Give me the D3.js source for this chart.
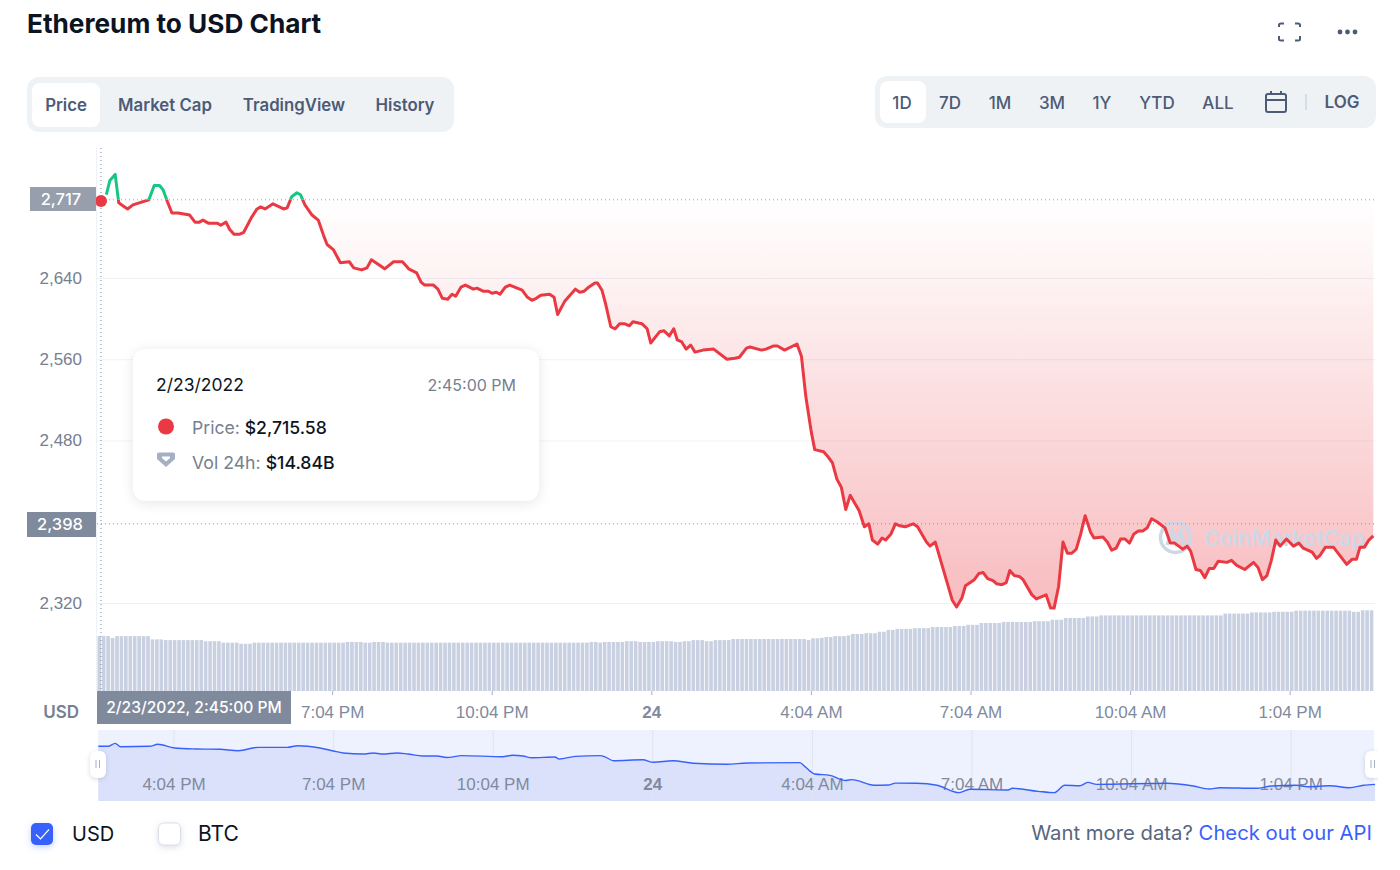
<!DOCTYPE html>
<html>
<head>
<meta charset="utf-8">
<script src="https://cdn.jsdelivr.net/npm/d3@7"></script>
<style>
    html, body { margin: 0; padding: 0; background: #fff; }
    svg { display: block; font-family: Inter, "Noto Sans", sans-serif; }
    .main-axis .domain, .mini-axis .domain, .price-axis .domain { display: none; }
    .price-axis line { stroke: #eff2f5; }
    .price-axis text { fill: #76808f; font-size: 17px; }
    .main-axis line { stroke: #a6b0c3; }
    .main-axis text { fill: #808a9d; font-size: 17px; }
    .mini-axis line { stroke: #dfe4f2; }
    .mini-axis text { fill: #808a9d; font-size: 17px; }
</style>
</head>
<body>
<div id="chart"></div>
<script>
// minutes after 2/23/2022 2:45 PM
var priceMinutes = [6,10,16,20,25,30,36,54,60,66,70,75,80,87,100,106,111,115,121,131,135,141,145,150,156,161,170,176,180,185,194,206,210,215,221,225,230,238,245,251,255,262,270,280,285,294,300,305,320,330,340,347,356,361,365,375,380,385,391,396,400,406,411,420,424,431,437,441,446,450,456,461,475,481,486,491,496,506,511,515,523,535,540,545,550,557,560,565,569,575,580,585,590,596,600,605,610,616,620,630,635,641,646,650,655,660,665,670,679,691,706,715,720,728,732,745,750,758,763,771,785,790,795,801,805,815,820,825,830,835,840,845,855,861,866,870,876,881,885,891,896,901,907,916,921,931,935,941,960,965,971,975,985,990,995,1000,1006,1010,1016,1021,1025,1030,1036,1040,1050,1055,1066,1071,1075,1080,1085,1090,1095,1100,1105,1110,1116,1120,1130,1135,1140,1145,1150,1155,1160,1165,1170,1175,1180,1185,1191,1200,1206,1211,1220,1225,1229,1235,1240,1245,1250,1255,1260,1270,1275,1281,1290,1300,1305,1310,1315,1320,1325,1330,1337,1345,1351,1356,1366,1371,1375,1381,1390,1405,1411,1416,1420,1425,1430,1435];
var priceValues = [2722,2736,2742,2714,2711,2708,2712,2717,2731,2731,2727,2715,2704,2704,2702,2695,2695,2697,2694,2694,2692,2695,2688,2683,2683,2685,2700,2708,2710,2708,2713,2708,2709,2720,2724,2722,2712,2702,2697,2682,2673,2668,2655,2656,2650,2648,2650,2658,2649,2656,2656,2649,2645,2636,2633,2633,2629,2620,2619,2624,2622,2631,2633,2629,2630,2627,2627,2625,2626,2624,2631,2633,2628,2621,2618,2620,2623,2624,2621,2604,2617,2629,2626,2627,2631,2635,2635,2628,2615,2592,2590,2595,2595,2593,2597,2596,2595,2590,2576,2587,2588,2583,2590,2579,2577,2570,2574,2567,2569,2570,2560,2561,2562,2571,2572,2569,2570,2573,2573,2569,2575,2563,2523,2489,2471,2469,2464,2458,2442,2434,2412,2426,2411,2395,2398,2382,2378,2384,2382,2388,2398,2396,2395,2398,2395,2380,2376,2380,2323,2316,2325,2337,2343,2349,2350,2344,2342,2339,2338,2340,2352,2347,2346,2343,2328,2324,2328,2315,2315,2336,2380,2369,2369,2373,2388,2406,2390,2384,2385,2380,2372,2374,2383,2383,2379,2388,2391,2391,2394,2403,2400,2394,2379,2379,2373,2376,2371,2353,2352,2345,2354,2354,2361,2360,2362,2357,2353,2360,2355,2343,2347,2362,2382,2376,2383,2376,2379,2374,2370,2364,2367,2375,2375,2358,2363,2363,2375,2375,2382,2386];

// overview strip is drawn coarser than the main line, so it has its own reading
var miniMinutes = [-3,8,16,22,55,64,83,108,134,155,177,210,222,247,262,273,296,307,318,334,346,363,379,390,407,453,464,476,486,512,517,535,563,569,578,611,623,645,668,706,729,788,794,805,822,840,847,872,888,896,920,943,968,980,1023,1028,1057,1075,1087,1104,1113,1123,1202,1232,1250,1262,1303,1321,1348,1361,1386,1408,1424,1437];
var miniValues = [2714,2714,2739,2710,2714,2731,2699,2691,2688,2676,2705,2705,2719,2699,2674,2657,2648,2657,2648,2657,2648,2631,2631,2618,2634,2625,2637,2631,2616,2622,2605,2628,2634,2622,2591,2599,2577,2591,2569,2560,2571,2574,2540,2477,2466,2422,2429,2381,2383,2399,2398,2381,2318,2347,2341,2355,2329,2318,2381,2377,2406,2389,2398,2375,2349,2360,2355,2375,2381,2369,2377,2360,2381,2389];

// volume in $B, runs of equal looking bars
var volumeLevels = [15.1,14.6,15.1,14.2,14.0,13.7,13.3,13.0,13.3,13.5,13.3,13.5,13.3,13.5,13.3,13.5,13.7,13.5,13.7,13.5,13.7,14.0,13.7,14.0,14.3,14.0,14.5,14.6,14.84,15.1,15.3,15.7,15.9,16.3,16.8,17.1,17.3,17.6,17.9,18.2,18.7,19.0,19.2,19.6,20.1,20.5,20.8,21.3,21.6,21.8,22.1,21.8,22.2];
var volumeCounts = [3,1,8,3,9,4,4,3,21,4,2,3,46,2,1,5,3,4,4,2,2,3,2,4,17,1,2,1,2,3,1,3,3,2,2,4,4,5,3,3,5,7,4,3,5,3,28,6,5,5,13,2,3];

var priceTicks = [2640, 2560, 2480, 2320];
var baselinePrice = 2717;
var lastPrice = 2398;
var timeTicks = [79, 259, 439, 619, 799, 979, 1159, 1339];
var timeLabels = ['4:04 PM', '7:04 PM', '10:04 PM', '24', '4:04 AM', '7:04 AM', '10:04 AM', '1:04 PM'];
var tabs = ['Price', 'Market Cap', 'TradingView', 'History'];
var tabCenters = [66, 165, 294, 405];
var ranges = ['1D', '7D', '1M', '3M', '1Y', 'YTD', 'ALL'];
var rangeCenters = [902, 950, 1000, 1052, 1102, 1157, 1218];

var red = '#ea3943', green = '#16c784', blue = '#3861fb';
var slate = '#4d5b76', grey = '#76808f';

var priceData = priceMinutes.map(function (m, i) { return { minute: m, price: priceValues[i] }; });
var miniData = miniMinutes.map(function (m, i) { return { minute: m, price: miniValues[i] }; });
var volumeData = [];
volumeLevels.forEach(function (v, i) {
    for (var k = 0; k < volumeCounts[i]; k++) volumeData.push(v);
});

var svg = d3.select('#chart').append('svg').attr('width', 1400).attr('height', 870);
var defs = svg.append('defs');

var x = d3.scaleLinear().domain([0, 1435]).range([101, 1373.3]);
var y = d3.scaleLinear().domain([2320, 2640]).range([603, 278]);
var yVolume = d3.scaleLinear().domain([0, 22.2]).range([691, 610.3]);
var yMini = d3.scaleLinear().domain([2315, 2742]).range([793, 743]);

var grad = defs.append('linearGradient').attr('id', 'redFade')
    .attr('gradientUnits', 'userSpaceOnUse')
    .attr('x1', 0).attr('x2', 0).attr('y1', y(baselinePrice)).attr('y2', y(2315));
grad.append('stop').attr('offset', 0).attr('stop-color', red).attr('stop-opacity', 0);
grad.append('stop').attr('offset', 1).attr('stop-color', red).attr('stop-opacity', 0.34);

defs.append('clipPath').attr('id', 'above').append('rect')
    .attr('x', 0).attr('y', 0).attr('width', 1400).attr('height', y(baselinePrice));
defs.append('clipPath').attr('id', 'below').append('rect')
    .attr('x', 0).attr('y', y(baselinePrice)).attr('width', 1400).attr('height', 600);
defs.append('clipPath').attr('id', 'miniClip').append('rect')
    .attr('x', 0).attr('y', 0).attr('width', 1378).attr('height', 870);

// header
svg.append('text').attr('x', 27).attr('y', 33).text('Ethereum to USD Chart')
    .style('font-size', '26.2px').style('font-weight', 700).style('fill', '#0d1421');

svg.append('rect').attr('x', 27).attr('y', 77).attr('width', 427).attr('height', 55).attr('rx', 12).attr('fill', '#eff2f5');
svg.append('rect').attr('x', 32).attr('y', 83).attr('width', 68).attr('height', 44).attr('rx', 8).attr('fill', '#fff');
svg.selectAll('.tab').data(tabs).enter().append('text')
    .attr('class', 'tab')
    .attr('x', function (d, i) { return tabCenters[i]; })
    .attr('y', 110.5)
    .attr('text-anchor', 'middle')
    .text(function (d) { return d; })
    .style('font-size', '16.8px').style('font-weight', 600).style('fill', slate);

svg.append('rect').attr('x', 875).attr('y', 76).attr('width', 501).attr('height', 52).attr('rx', 12).attr('fill', '#eff2f5');
svg.append('rect').attr('x', 880).attr('y', 81).attr('width', 46).attr('height', 42).attr('rx', 8).attr('fill', '#fff');
svg.selectAll('.range').data(ranges).enter().append('text')
    .attr('class', 'range')
    .attr('x', function (d, i) { return rangeCenters[i]; })
    .attr('y', 109)
    .attr('text-anchor', 'middle')
    .text(function (d) { return d; })
    .style('font-size', '17px').style('font-weight', 500).style('fill', slate);
svg.append('text').attr('x', 1342).attr('y', 108).attr('text-anchor', 'middle').text('LOG')
    .style('font-size', '17px').style('font-weight', 600).style('fill', slate);
svg.append('line').attr('x1', 1306).attr('x2', 1306).attr('y1', 94).attr('y2', 110).attr('stroke', '#cfd6e4').attr('stroke-width', 1.5);

// calendar icon
var cal = svg.append('g').attr('fill', 'none').attr('stroke', slate).attr('stroke-width', 2);
cal.append('rect').attr('x', 1266).attr('y', 94).attr('width', 20).attr('height', 18).attr('rx', 2);
cal.append('path').attr('d', 'M1266 100H1286M1271 91V95M1281 91V95');

// fullscreen corners and dots
svg.append('path')
    .attr('d', 'M1279 27V25Q1279 23.5 1281 23.5H1284M1295 23.5H1298Q1300 23.5 1300 25V27M1279 36V39Q1279 40.5 1281 40.5H1284M1295 40.5H1298Q1300 40.5 1300 39V36')
    .attr('fill', 'none').attr('stroke', slate).attr('stroke-width', 2);
svg.selectAll('.dot3').data([1340, 1347.5, 1355]).enter().append('circle')
    .attr('class', 'dot3').attr('cx', function (d) { return d; }).attr('cy', 32).attr('r', 2.4).attr('fill', slate);

// price axis and grid
svg.append('g').attr('class', 'price-axis')
    .attr('transform', 'translate(97,0)')
    .call(d3.axisLeft(y).tickValues(priceTicks).tickSize(-1278).tickPadding(15).tickFormat(d3.format(',')));
svg.append('line').attr('x1', 96.5).attr('x2', 96.5).attr('y1', 148).attr('y2', 691).attr('stroke', '#eff2f5');

// volume bars
svg.selectAll('.vol').data(volumeData).enter().append('rect')
    .attr('class', 'vol')
    .attr('x', function (d, i) { return x(-4 + 5 * i); })
    .attr('width', 3.6)
    .attr('y', function (d) { return yVolume(d); })
    .attr('height', function (d) { return yVolume(0) - yVolume(d); })
    .attr('fill', '#c8d0e1');

// area under baseline
var area = d3.area()
    .x(function (d) { return x(d.minute); })
    .y0(y(baselinePrice))
    .y1(function (d) { return y(d.price); });
svg.append('path').datum(priceData).attr('d', area)
    .attr('fill', 'url(#redFade)').attr('clip-path', 'url(#below)');

// watermark
var mark = svg.append('g').attr('fill', 'none').attr('stroke', '#cdd8e6').attr('stroke-width', 3.5);
mark.append('circle').attr('cx', 1175.5).attr('cy', 537.5).attr('r', 15);
mark.append('path').attr('d', 'M1167 545L1172 531L1176 543L1181 531L1184 545');
svg.append('text').attr('x', 1204).attr('y', 546).text('CoinMarketCap')
    .style('font-size', '21.3px').style('font-weight', 600).style('fill', '#cdd8e6');

// reference lines
svg.append('line').attr('x1', 101).attr('x2', 1375).attr('y1', y(baselinePrice)).attr('y2', y(baselinePrice))
    .attr('stroke', '#9aa3b3').attr('stroke-dasharray', '1,3');
svg.append('line').attr('x1', 97).attr('x2', 1375).attr('y1', y(lastPrice)).attr('y2', y(lastPrice))
    .attr('stroke', '#8a93a5').attr('stroke-dasharray', '1,3');
svg.append('line').attr('x1', 101).attr('x2', 101).attr('y1', 148).attr('y2', 691)
    .attr('stroke', '#7f8aa0').attr('stroke-dasharray', '1,3');

// price line, green above the baseline and red under it
var line = d3.line()
    .x(function (d) { return x(d.minute); })
    .y(function (d) { return y(d.price); });
svg.append('path').datum(priceData).attr('d', line)
    .attr('fill', 'none').attr('stroke', red).attr('stroke-width', 3).attr('stroke-linejoin', 'round')
    .attr('clip-path', 'url(#below)');
svg.append('path').datum(priceData).attr('d', line)
    .attr('fill', 'none').attr('stroke', green).attr('stroke-width', 3).attr('stroke-linejoin', 'round')
    .attr('clip-path', 'url(#above)');
svg.append('circle').attr('cx', 101).attr('cy', 201).attr('r', 6).attr('fill', red);

// value badges
svg.append('rect').attr('x', 30).attr('y', 187).attr('width', 66).attr('height', 24).attr('fill', '#979eac');
svg.append('text').attr('x', 61).attr('y', 205).attr('text-anchor', 'middle').text(d3.format(',')(baselinePrice))
    .style('font-size', '16.5px').style('font-weight', 500).style('fill', '#fff');
svg.append('rect').attr('x', 27).attr('y', 512).attr('width', 69).attr('height', 25).attr('fill', '#808a9d');
svg.append('text').attr('x', 60).attr('y', 530).attr('text-anchor', 'middle').text(d3.format(',')(lastPrice))
    .style('font-size', '16.5px').style('font-weight', 500).style('fill', '#fff');

// time axis, first label sits under the date badge in the picture so it starts at 7:04 PM
var mainAxis = svg.append('g').attr('class', 'main-axis')
    .attr('transform', 'translate(1.5,691)')
    .call(d3.axisBottom(x).tickValues(timeTicks.slice(1)).tickSize(4).tickPadding(11)
        .tickFormat(function (d, i) { return timeLabels[i + 1]; }));
mainAxis.selectAll('text').filter(function (d, i) { return timeLabels[i + 1] === '24'; }).style('font-weight', 700);

svg.append('text').attr('x', 79).attr('y', 718).attr('text-anchor', 'end').text('USD')
    .style('font-size', '17px').style('font-weight', 600).style('fill', grey);
svg.append('rect').attr('x', 97).attr('y', 691).attr('width', 194).attr('height', 33).attr('fill', '#808a9d');
svg.append('text').attr('x', 194).attr('y', 713).attr('text-anchor', 'middle').text('2/23/2022, 2:45:00 PM')
    .style('font-size', '15.6px').style('font-weight', 500).style('fill', '#fff');

// tooltip
svg.append('rect').attr('x', 133).attr('y', 349).attr('width', 406).attr('height', 152).attr('rx', 12)
    .attr('fill', '#fff').style('filter', 'drop-shadow(0 2px 6px rgba(88,102,126,.16))');
svg.append('text').attr('x', 156).attr('y', 391).text('2/23/2022').style('font-size', '17.5px').style('fill', '#0d1421');
svg.append('text').attr('x', 516).attr('y', 391).attr('text-anchor', 'end').text('2:45:00 PM').style('font-size', '16px').style('fill', grey);
svg.append('circle').attr('cx', 166).attr('cy', 426.5).attr('r', 8).attr('fill', red);
svg.append('path').attr('d', 'M157 454Q157 452.5 159 452.5H173Q175 452.5 175 454V459L166 467L157 459Z M162 456.5H170V458L166 461.5L162 458Z')
    .attr('fill', '#a6b0c3').attr('fill-rule', 'evenodd');
var priceRow = svg.append('text').attr('x', 192).attr('y', 434).style('font-size', '17.6px');
priceRow.append('tspan').text('Price: ').style('fill', grey);
priceRow.append('tspan').text('$2,715.58').style('fill', '#0d1421').style('font-weight', 500);
var volRow = svg.append('text').attr('x', 192).attr('y', 469).style('font-size', '17.7px');
volRow.append('tspan').text('Vol 24h: ').style('fill', grey);
volRow.append('tspan').text('$14.84B').style('fill', '#0d1421').style('font-weight', 500);

// overview strip
svg.append('rect').attr('x', 98).attr('y', 730).attr('width', 1276).attr('height', 71).attr('fill', '#eef2fe');
var miniArea = d3.area()
    .curve(d3.curveMonotoneX)
    .x(function (d) { return x(d.minute); })
    .y0(801)
    .y1(function (d) { return yMini(d.price); });
svg.append('path').datum(miniData).attr('d', miniArea).attr('fill', '#dbe1fb');
var miniAxis = svg.append('g').attr('class', 'mini-axis')
    .attr('transform', 'translate(2.5,730)')
    .call(d3.axisBottom(x).tickValues(timeTicks).tickSize(71)
        .tickFormat(function (d, i) { return timeLabels[i]; }));
miniAxis.selectAll('text').attr('y', 55).attr('dy', '.32em');
miniAxis.selectAll('text').filter(function (d, i) { return timeLabels[i] === '24'; }).style('font-weight', 700);
svg.append('path').datum(miniData)
    .attr('d', d3.line().curve(d3.curveMonotoneX).x(function (d) { return x(d.minute); }).y(function (d) { return yMini(d.price); }))
    .attr('fill', 'none').attr('stroke', blue).attr('stroke-width', 1.4);

// drag handles
var handles = svg.append('g').attr('clip-path', 'url(#miniClip)').selectAll('g').data([98, 1373]).enter().append('g')
    .attr('transform', function (d) { return 'translate(' + d + ',764)'; });
handles.append('rect').attr('x', -8).attr('y', -13).attr('width', 16).attr('height', 27).attr('rx', 6)
    .attr('fill', '#fff').style('filter', 'drop-shadow(0 1px 2px rgba(88,102,126,.25))');
handles.append('path').attr('d', 'M-2 -4V4M1.5 -4V4').attr('stroke', '#a6b0c3').attr('stroke-width', 1);

// legend
svg.append('rect').attr('x', 31).attr('y', 823).attr('width', 22).attr('height', 22).attr('rx', 5).attr('fill', blue)
    .style('filter', 'drop-shadow(0 2px 3px rgba(56,97,251,.3))');
svg.append('path').attr('d', 'M36 834.5L40.5 839L49 829.5').attr('fill', 'none').attr('stroke', '#fff').attr('stroke-width', 1.2);
svg.append('text').attr('x', 72).attr('y', 841).text('USD').style('font-size', '20px').style('fill', '#0d1421');
svg.append('rect').attr('x', 158.5).attr('y', 823).attr('width', 22).attr('height', 22).attr('rx', 5)
    .attr('fill', '#fff').attr('stroke', '#d9deea').style('filter', 'drop-shadow(0 2px 3px rgba(88,102,126,.2))');
svg.append('text').attr('x', 198).attr('y', 841).text('BTC').style('font-size', '21px').style('fill', '#0d1421');

var api = svg.append('text').attr('x', 1372).attr('y', 840).attr('text-anchor', 'end').style('font-size', '20.3px');
api.append('tspan').text('Want more data? ').style('fill', '#58667e');
api.append('tspan').text('Check out our API').style('fill', blue);
</script>
</body>
</html>
